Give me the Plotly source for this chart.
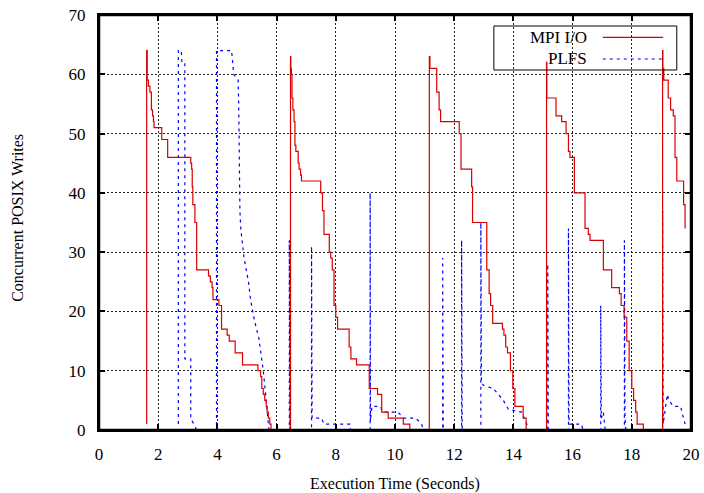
import plotly.graph_objects as go

# ---------------- data ----------------
# MPI I/O: step series (value holds from each time until the next)
mpi_time = [
    1.61, 1.61, 1.63, 1.67, 1.72, 1.77, 1.81, 1.84, 1.86, 2.12, 2.32, 3.10, 3.13, 3.15, 3.17, 3.24,
    3.30, 3.70, 3.76, 3.82, 3.85, 4.05, 4.14, 4.33, 4.40, 4.60, 4.85, 5.37, 5.46, 5.50, 5.55,
    5.60, 5.65, 5.68, 5.72, 5.77, 5.81,
    6.47, 6.48, 6.50, 6.52, 6.55, 6.59, 6.62, 6.65, 6.73, 6.76, 6.81, 6.84, 7.49, 7.55, 7.60,
    7.78, 7.83, 7.88, 7.94, 8.00, 8.06, 8.45, 8.51, 8.70, 9.13, 9.41, 9.55, 9.77, 10.28, 10.50,
    11.16, 11.18, 11.41, 11.49, 11.54, 12.17, 12.23, 12.59, 12.62, 13.10, 13.18, 13.23, 13.30,
    13.63, 13.68, 13.74, 13.80, 13.90, 13.98, 14.05, 14.33, 14.43,
    15.12, 15.13, 15.44, 15.63, 15.78, 15.86, 15.91, 16.06, 16.42, 16.53, 16.59, 17.04, 17.32,
    17.58, 17.64, 17.74, 17.83, 17.91, 18.00, 18.06, 18.13, 18.18, 18.39,
    19.04, 19.05, 19.08, 19.23, 19.31, 19.40, 19.46, 19.52, 19.75, 19.80,
]
mpi_writes = [
    1, 64, 59, 58, 57, 54, 53, 52, 51, 49, 46, 45, 44, 41, 38, 35,
    27, 26, 25, 24, 22, 21, 17, 16, 15, 13, 11, 10, 9, 7, 6,
    5, 4, 3, 2, 1, 0,
    63, 61, 60, 56, 54, 52, 48, 47, 45, 44, 43, 42, 40, 37, 33,
    30, 29, 27, 21, 19, 17, 14, 12, 11, 7, 6, 3, 2, 1, 0,
    63, 61, 57, 54, 52, 50, 44, 41, 35, 27, 23, 21, 18,
    17, 16, 14, 13, 10, 7, 4, 2, 0,
    62, 56, 53, 52, 50, 47, 46, 40, 34, 33, 32, 27, 24,
    23, 21, 19, 15, 10, 7, 5, 3, 1, 0,
    64, 61, 59, 56, 54, 53, 46, 42, 38, 34,
]

# PLFS: polyline vertices
plfs_time = [
    2.68, 2.68, 2.78, 2.80, 2.90, 2.90, 3.10, 3.10, 3.20, 3.30,
    3.97, 3.97, 4.48, 4.55, 4.70, 4.72, 4.76, 4.79, 4.90, 5.05, 5.12, 5.25, 5.40, 5.55, 5.63, 5.72, 5.74,
    6.43, 6.43, 6.45,
    7.18, 7.18, 7.20, 7.52, 7.60, 8.48, 8.50,
    9.16, 9.16, 9.17, 9.22, 9.50, 9.60, 10.10, 10.30, 10.70, 10.90, 10.95,
    11.61, 11.61, 11.63,
    12.25, 12.25, 12.27,
    12.90, 12.90, 12.92, 13.00, 13.32, 13.49, 13.66, 13.83, 14.30, 14.36, 14.45, 14.50,
    15.16, 15.16, 15.18,
    15.86, 15.86, 15.88, 16.30, 16.35,
    16.95, 16.95, 16.97, 17.04, 17.10,
    17.75, 17.75, 17.77, 17.80,
    19.04, 19.04, 19.06, 19.20, 19.25, 19.40, 19.65, 19.72, 19.80,
]
plfs_writes = [
    1, 64, 64, 62, 62, 12, 12, 2, 1, 0,
    0, 64, 64, 60, 59, 55, 37, 34, 29, 25, 22, 18.5, 15.5, 10, 6, 2, 0,
    0, 32, 0,
    0, 31, 2, 2, 1, 1, 0,
    0, 40, 1.5, 4, 4, 3, 3, 2, 2, 1, 0,
    0, 29, 0,
    0, 32, 0,
    0, 35, 8, 7.5, 7, 6, 5, 3.5, 3, 2, 1, 0,
    0, 28, 0,
    0, 34, 1, 1, 0,
    0, 21, 2, 3, 0,
    0, 32, 2, 0,
    0, 37, 1, 6, 5, 4, 4, 2.5, 1,
]

x_ticks = [0, 2, 4, 6, 8, 10, 12, 14, 16, 18, 20]
y_ticks = [0, 10, 20, 30, 40, 50, 60, 70]
series_names = ["MPI I/O", "PLFS"]
x_title = "Execution Time (Seconds)"
y_title = "Concurrent POSIX Writes"

RED = "#d80000"
BLUE = "#0000ff"
FONT = "Liberation Serif"

fig = go.Figure()
fig.add_trace(go.Scatter(
    x=plfs_time, y=plfs_writes, mode="lines", name=series_names[1],
    line=dict(color=BLUE, width=1.2, dash="3px,4px"), showlegend=False,
))
fig.add_trace(go.Scatter(
    x=mpi_time, y=mpi_writes, mode="lines", name=series_names[0],
    line=dict(color=RED, width=1.2, shape="hv"), showlegend=False,
))

# plot border drawn above the data (hides the zero-level runs, like gnuplot)
fig.add_shape(type="rect", xref="paper", yref="paper", x0=0, x1=1, y0=0, y1=1,
              line=dict(color="black", width=2.5), fillcolor="rgba(0,0,0,0)", layer="above")

# custom gnuplot-style legend (box, labels, line samples)
fig.add_shape(type="rect", xref="paper", yref="paper", x0=0.667, x1=0.976, y0=0.8675, y1=0.9735,
              line=dict(color="black", width=1), fillcolor="rgba(0,0,0,0)")
for i, (name, col, dash) in enumerate([(series_names[0], RED, "solid"), (series_names[1], BLUE, "3px,4px")]):
    yy = 0.946 - i * 0.052
    fig.add_annotation(xref="paper", yref="paper", x=0.828, y=yy, text=name, showarrow=False,
                       xanchor="right", yanchor="middle", font=dict(family=FONT, size=17, color="black"))
    fig.add_shape(type="line", xref="paper", yref="paper", x0=0.851, x1=0.953, y0=yy, y1=yy,
                  line=dict(color=col, width=1.2, dash=dash))

# axis titles
fig.add_annotation(xref="paper", yref="paper", x=0.5, y=-0.130, text=x_title, showarrow=False,
                   xanchor="center", yanchor="middle", font=dict(family=FONT, size=16, color="black"))
fig.add_annotation(xref="paper", yref="paper", x=-0.137, y=0.511, text=y_title, showarrow=False,
                   textangle=-90, xanchor="center", yanchor="middle",
                   font=dict(family=FONT, size=16, color="black"))

axis_common = dict(
    showline=True, linecolor="black", linewidth=2, mirror="allticks",
    ticks="inside", ticklen=6, tickwidth=2, tickcolor="black",
    showgrid=True, gridcolor="#222222", gridwidth=1, griddash="2px,2px",
    zeroline=False, automargin=False, tickfont=dict(family=FONT, size=17, color="black"),
)

fig.update_layout(
    width=704, height=493,
    margin=dict(l=99, r=13, t=15, b=63),
    plot_bgcolor="white", paper_bgcolor="white",
    xaxis=dict(range=[0, 20], tickvals=x_ticks, ticktext=[str(v) for v in x_ticks],
               ticklabelstandoff=8, **axis_common),
    yaxis=dict(range=[0, 70], tickvals=y_ticks, ticktext=[str(v) for v in y_ticks],
               ticklabelstandoff=8, **axis_common),
    showlegend=False,
)

fig.write_html("out.html", config={"displayModeBar": False},
               post_script="document.body.style.margin='0';document.body.style.overflow='hidden';")
